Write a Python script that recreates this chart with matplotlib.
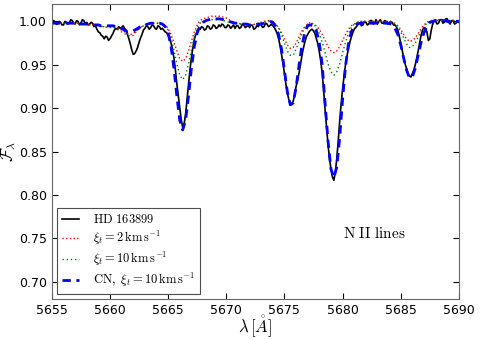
import numpy as np
import matplotlib
matplotlib.use("Agg")
import matplotlib.pyplot as plt

# wavelength grids: observed spectrum in 0.125 A steps, models in 0.25 A steps
wave_obs = np.arange(5655.0, 5690.001, 0.125)
wave = np.arange(5655.0, 5690.001, 0.25)

# observed HD 163899 (one row = 1 A)
obs = [
    0.998, 1.001, 1.000, 0.997, 0.997, 1.000, 0.999, 0.996,
    0.996, 1.000, 0.999, 0.997, 0.998, 1.002, 1.001, 0.998,
    0.997, 1.001, 1.000, 0.996, 0.998, 1.002, 1.001, 0.997,
    0.999, 0.996, 0.997, 0.999, 0.998, 0.994, 0.995, 0.991,
    0.988, 0.987, 0.984, 0.983, 0.980, 0.983, 0.982, 0.978,
    0.980, 0.983, 0.986, 0.990, 0.992, 0.991, 0.994, 0.992,
    0.993, 0.995, 0.992, 0.990, 0.985, 0.980, 0.974, 0.967,
    0.962, 0.963, 0.966, 0.970, 0.976, 0.981, 0.985, 0.990,
    0.992, 0.995, 0.994, 0.991, 0.993, 0.996, 0.995, 0.992,
    0.991, 0.995, 0.994, 0.991, 0.992, 0.990, 0.988, 0.987,
    0.984, 0.980, 0.975, 0.967, 0.958, 0.944, 0.928, 0.914,
    0.900, 0.887, 0.878, 0.882, 0.893, 0.910, 0.928, 0.944,
    0.958, 0.970, 0.979, 0.985, 0.988, 0.992, 0.991, 0.994,
    0.993, 0.990, 0.991, 0.995, 0.994, 0.991, 0.992, 0.996,
    0.995, 0.992, 0.993, 0.996, 0.994, 0.997, 0.996, 0.993,
    0.993, 0.996, 0.995, 0.992, 0.994, 0.996, 0.992, 0.995,
    0.995, 0.992, 0.993, 0.997, 0.996, 0.993, 0.994, 0.996,
    0.993, 0.996, 0.995, 0.991, 0.992, 0.995, 0.994, 0.997,
    0.996, 0.993, 0.994, 0.998, 0.997, 0.994, 0.995, 0.997,
    0.995, 0.993, 0.990, 0.986, 0.980, 0.972, 0.962, 0.952,
    0.940, 0.928, 0.918, 0.910, 0.906, 0.904, 0.908, 0.915,
    0.925, 0.932, 0.940, 0.950, 0.960, 0.969, 0.976, 0.982,
    0.985, 0.988, 0.990, 0.991, 0.989, 0.986, 0.980, 0.974,
    0.965, 0.954, 0.940, 0.920, 0.898, 0.878, 0.858, 0.842,
    0.830, 0.821, 0.817, 0.826, 0.842, 0.862, 0.885, 0.905,
    0.922, 0.937, 0.950, 0.960, 0.968, 0.976, 0.982, 0.987,
    0.991, 0.993, 0.995, 0.998, 0.998, 0.995, 0.996, 1.000,
    0.999, 0.996, 0.997, 1.001, 1.001, 0.997, 0.998, 1.002,
    0.997, 1.000, 1.002, 0.998, 0.998, 1.001, 1.000, 0.997,
    0.997, 1.000, 0.999, 0.996, 0.996, 0.994, 0.990, 0.983,
    0.975, 0.967, 0.958, 0.951, 0.946, 0.940, 0.937, 0.936,
    0.940, 0.944, 0.950, 0.958, 0.966, 0.975, 0.984, 0.990,
    0.993, 0.992, 0.988, 0.978, 0.980, 0.990, 0.997, 1.001,
    1.000, 0.997, 0.998, 1.002, 1.002, 0.998, 0.999, 1.003,
    1.003, 0.999, 0.997, 1.001, 1.001, 0.997, 0.998, 1.001,
    0.999,
]

# model xi_t = 2 km/s
red = [
    0.998, 0.998, 0.998, 0.998,  0.998, 0.998, 0.998, 0.998,
    0.998, 0.998, 0.997, 0.997,  0.997, 0.996, 0.996, 0.995,
    0.995, 0.994, 0.994, 0.994,  0.994, 0.994, 0.993, 0.992,
    0.990, 0.988, 0.986, 0.985,  0.986, 0.989, 0.992, 0.994,
    0.996, 0.997, 0.998, 0.998,  0.998, 0.998, 0.997, 0.996,
    0.992, 0.985, 0.976, 0.966,  0.957, 0.954, 0.957, 0.966,
    0.977, 0.988, 0.996, 1.001,  1.003, 1.004, 1.005, 1.006,
    1.006, 1.006, 1.006, 1.005,  1.004, 1.002, 1.000, 0.999,
    0.998, 0.997, 0.997, 0.996,  0.996, 0.996, 0.997, 0.998,
    0.999, 1.000, 1.001, 1.001,  1.000, 0.997, 0.993, 0.987,
    0.980, 0.973, 0.969, 0.970,  0.975, 0.982, 0.989, 0.994,
    0.997, 0.999, 0.997, 0.995,  0.991, 0.985, 0.978, 0.971,
    0.966, 0.964, 0.966, 0.971,  0.978, 0.985, 0.991, 0.995,
    0.997, 0.999, 1.000, 1.000,  1.000, 1.000, 1.000, 1.000,
    1.000, 1.000, 1.000, 1.000,  1.000, 0.999, 0.998, 0.995,
    0.991, 0.985, 0.980, 0.977,  0.978, 0.981, 0.986, 0.992,
    0.996, 0.999, 1.001, 1.001,  1.002, 1.002, 1.002, 1.002,
    1.001, 1.001, 1.001, 1.001,  1.001,
]

# model xi_t = 10 km/s
green = [
    0.998, 0.998, 0.998, 0.998,  0.998, 0.998, 0.998, 0.998,
    0.998, 0.998, 0.997, 0.997,  0.997, 0.996, 0.996, 0.995,
    0.995, 0.994, 0.994, 0.993,  0.993, 0.993, 0.992, 0.990,
    0.988, 0.986, 0.984, 0.983,  0.984, 0.988, 0.991, 0.994,
    0.996, 0.997, 0.998, 0.998,  0.998, 0.998, 0.997, 0.995,
    0.990, 0.981, 0.967, 0.951,  0.938, 0.933, 0.938, 0.951,
    0.967, 0.982, 0.993, 0.998,  1.000, 1.001, 1.002, 1.002,
    1.002, 1.002, 1.002, 1.001,  1.000, 0.999, 0.998, 0.998,
    0.997, 0.997, 0.996, 0.996,  0.996, 0.996, 0.997, 0.998,
    0.998, 0.999, 1.000, 1.000,  0.999, 0.996, 0.992, 0.985,
    0.975, 0.966, 0.961, 0.961,  0.968, 0.977, 0.986, 0.993,
    0.997, 0.998, 0.997, 0.993,  0.986, 0.976, 0.964, 0.951,
    0.942, 0.938, 0.942, 0.951,  0.964, 0.976, 0.986, 0.993,
    0.997, 0.999, 1.000, 1.000,  1.000, 1.000, 1.000, 1.000,
    1.000, 1.000, 1.000, 1.000,  1.000, 0.999, 0.997, 0.993,
    0.988, 0.981, 0.974, 0.970,  0.971, 0.975, 0.982, 0.989,
    0.994, 0.998, 1.000, 1.001,  1.001, 1.001, 1.001, 1.001,
    1.001, 1.001, 1.001, 1.001,  1.001,
]

# model CN, xi_t = 10 km/s
blue = [
    0.998, 0.998, 0.998, 0.998,  0.998, 0.998, 0.998, 0.998,
    0.998, 0.998, 0.997, 0.997,  0.997, 0.997, 0.996, 0.996,
    0.996, 0.995, 0.995, 0.995,  0.995, 0.995, 0.994, 0.993,
    0.992, 0.990, 0.988, 0.988,  0.989, 0.991, 0.993, 0.995,
    0.996, 0.997, 0.998, 0.998,  0.998, 0.998, 0.997, 0.994,
    0.987, 0.971, 0.946, 0.914,  0.886, 0.875, 0.886, 0.914,
    0.946, 0.971, 0.987, 0.995,  0.999, 1.001, 1.002, 1.003,
    1.003, 1.003, 1.003, 1.002,  1.001, 1.000, 0.999, 0.998,
    0.998, 0.997, 0.997, 0.997,  0.996, 0.996, 0.996, 0.997,
    0.997, 0.998, 0.999, 1.000,  0.999, 0.994, 0.985, 0.968,
    0.944, 0.919, 0.904, 0.906,  0.924, 0.949, 0.972, 0.987,
    0.995, 0.996, 0.995, 0.989,  0.975, 0.950, 0.905, 0.862,
    0.830, 0.820, 0.832, 0.866,  0.910, 0.948, 0.974, 0.988,
    0.995, 0.997, 0.998, 0.998,  0.998, 0.998, 0.998, 0.998,
    0.998, 0.998, 0.998, 0.998,  0.998, 0.996, 0.992, 0.985,
    0.973, 0.958, 0.944, 0.935,  0.936, 0.946, 0.961, 0.976,
    0.987, 0.994, 0.999, 1.000,  1.001, 1.001, 1.001, 1.001,
    1.000, 1.000, 1.000, 1.000,  1.000,
]

labels = [r'$\mathrm{HD\ 163899}$',
          r'$\xi_t = 2\,\mathrm{km\,s^{-1}}$',
          r'$\xi_t = 10\,\mathrm{km\,s^{-1}}$',
          r'$\mathrm{CN,}\ \xi_t = 10\,\mathrm{km\,s^{-1}}$']

xticks = [5655, 5660, 5665, 5670, 5675, 5680, 5685, 5690]
yticks = [0.70, 0.75, 0.80, 0.85, 0.90, 0.95, 1.00]

# old-style matplotlib look
plt.rcParams['mathtext.fontset'] = 'cm'
plt.rcParams['xtick.direction'] = 'in'
plt.rcParams['ytick.direction'] = 'in'
plt.rcParams['xtick.top'] = True
plt.rcParams['ytick.right'] = True
plt.rcParams['xtick.major.size'] = 4
plt.rcParams['ytick.major.size'] = 4

fig = plt.figure(figsize=(4.8, 3.4), dpi=100)
ax = fig.add_axes([0.108, 0.12, 0.848, 0.868])

ax.plot(wave_obs, obs, color='k', lw=1.2, label=labels[0])
ax.plot(wave, red, color='r', ls=':', lw=1.0, label=labels[1])
ax.plot(wave, green, color='g', ls='-.', lw=1.0, dashes=(1, 2, 1, 2), label=labels[2])
ax.plot(wave, blue, color='b', ls='--', lw=2.0, dashes=(3, 2), label=labels[3])

ax.set_xlim(5655, 5690)
ax.set_ylim(0.68, 1.02)
ax.set_xticks(xticks)
ax.set_yticks(yticks)
ax.set_yticklabels(['%.2f' % v for v in yticks])
ax.tick_params(labelsize=9)
for s in ax.spines.values():
    s.set_color('0.4')

ax.set_xlabel(r'$\lambda\,[\mathring{A}]$', fontsize=12)
ax.set_ylabel(r'$\mathcal{F}_\lambda$', fontsize=12)
ax.xaxis.set_label_coords(0.5, -0.05)
ax.yaxis.set_label_coords(-0.083, 0.5)

ax.text(5680.0, 0.756, r'$\mathrm{N\ II\ lines}$', fontsize=11, ha='left', va='center')

leg = ax.legend(loc='lower left', fontsize=9, handlelength=1.4, handletextpad=1.1,
                fancybox=False, framealpha=1, edgecolor='0.3', borderaxespad=0.4,
                labelspacing=0.22)
leg.get_frame().set_linewidth(0.8)

fig.savefig('out.png', dpi=100)
